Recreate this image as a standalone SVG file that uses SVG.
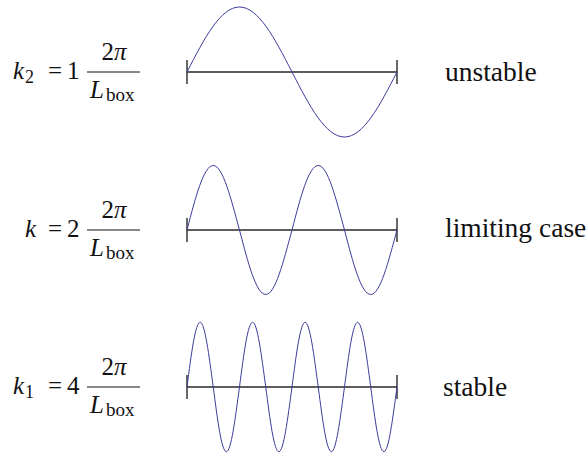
<svg xmlns="http://www.w3.org/2000/svg" width="588" height="453" viewBox="0 0 588 453">
<style>
.ax{stroke:#2a2a2a;stroke-width:1.4;fill:none}
.w{stroke:#3c3c9c;stroke-width:1;fill:none}
.bar{stroke:#111;stroke-width:1}
</style>
<rect width="588" height="453" fill="#fff"/>
<g id="formula1" fill="#111">
<text font-family="Liberation Serif, serif" font-size="25" font-style="italic" x="13" y="79">k</text>
<text font-family="Liberation Serif, serif" font-size="18" x="25" y="83">2</text>
<text font-family="Liberation Serif, serif" font-size="25" x="55" y="79" text-anchor="middle">=</text>
<text font-family="Liberation Serif, serif" font-size="25" x="67" y="79">1</text>
<text font-family="Liberation Serif, serif" font-size="25" x="114" y="60" text-anchor="middle">2<tspan font-style="italic">π</tspan></text>
<line class="bar" x1="87" y1="72" x2="140" y2="72"/>
<text font-family="Liberation Serif, serif" font-size="25" font-style="italic" x="90" y="98">L</text>
<text font-family="Liberation Serif, serif" font-size="19" x="106" y="101">box</text>
</g>
<g id="wave1">
<path class="ax" d="M187,72H397M187,60V84M397,60V84"/>
<path class="w" d="M187,72c17.12,-33.3 33.5,-65 52.5,-65c19,0 35.38,31.7 52.5,65c17.12,33.3 33.5,65 52.5,65c19,0 35.38,-31.7 52.5,-65"/>
</g>
<g id="label1" fill="#111"><text font-family="Liberation Serif, serif" font-size="27.5" x="445" y="81">unstable</text></g>
<g id="formula2" fill="#111">
<text font-family="Liberation Serif, serif" font-size="25" font-style="italic" x="25" y="237">k</text>
<text font-family="Liberation Serif, serif" font-size="25" x="55" y="237" text-anchor="middle">=</text>
<text font-family="Liberation Serif, serif" font-size="25" x="67" y="237">2</text>
<text font-family="Liberation Serif, serif" font-size="25" x="114" y="218" text-anchor="middle">2<tspan font-style="italic">π</tspan></text>
<line class="bar" x1="87" y1="230" x2="140" y2="230"/>
<text font-family="Liberation Serif, serif" font-size="25" font-style="italic" x="90" y="256">L</text>
<text font-family="Liberation Serif, serif" font-size="19" x="106" y="259">box</text>
</g>
<g id="wave2">
<path class="ax" d="M187,230H397M187,218V242M397,218V242"/>
<path class="w" d="M187,230c8.56,-33.04 16.75,-64.5 26.25,-64.5c9.5,0 17.69,33.04 26.25,64.5c8.56,33.04 16.75,64.5 26.25,64.5c9.5,0 17.69,-33.04 26.25,-64.5c8.56,-33.04 16.75,-64.5 26.25,-64.5c9.5,0 17.69,33.04 26.25,64.5c8.56,33.04 16.75,64.5 26.25,64.5c9.5,0 17.69,-33.04 26.25,-64.5"/>
</g>
<g id="label2" fill="#111"><text font-family="Liberation Serif, serif" font-size="27.5" x="445" y="237">limiting case</text></g>
<g id="formula3" fill="#111">
<text font-family="Liberation Serif, serif" font-size="25" font-style="italic" x="13" y="394">k</text>
<text font-family="Liberation Serif, serif" font-size="18" x="25" y="398">1</text>
<text font-family="Liberation Serif, serif" font-size="25" x="55" y="394" text-anchor="middle">=</text>
<text font-family="Liberation Serif, serif" font-size="25" x="67" y="394">4</text>
<text font-family="Liberation Serif, serif" font-size="25" x="114" y="375" text-anchor="middle">2<tspan font-style="italic">π</tspan></text>
<line class="bar" x1="87" y1="387" x2="140" y2="387"/>
<text font-family="Liberation Serif, serif" font-size="25" font-style="italic" x="90" y="413">L</text>
<text font-family="Liberation Serif, serif" font-size="19" x="106" y="416">box</text>
</g>
<g id="wave3">
<path class="ax" d="M187,387H397M187,375V399M397,375V399"/>
<path class="w" d="M187,387c4.28,-33.15 8.375,-64.7 13.125,-64.7c4.75,0 8.845,33.15 13.125,64.7c4.28,33.15 8.375,64.7 13.125,64.7c4.75,0 8.845,-33.15 13.125,-64.7c4.28,-33.15 8.375,-64.7 13.125,-64.7c4.75,0 8.845,33.15 13.125,64.7c4.28,33.15 8.375,64.7 13.125,64.7c4.75,0 8.845,-33.15 13.125,-64.7c4.28,-33.15 8.375,-64.7 13.125,-64.7c4.75,0 8.845,33.15 13.125,64.7c4.28,33.15 8.375,64.7 13.125,64.7c4.75,0 8.845,-33.15 13.125,-64.7c4.28,-33.15 8.375,-64.7 13.125,-64.7c4.75,0 8.845,33.15 13.125,64.7c4.28,33.15 8.375,64.7 13.125,64.7c4.75,0 8.845,-33.15 13.125,-64.7"/>
</g>
<g id="label3" fill="#111"><text font-family="Liberation Serif, serif" font-size="27.5" x="443" y="396">stable</text></g>
<g id="connectors"></g>
</svg>
